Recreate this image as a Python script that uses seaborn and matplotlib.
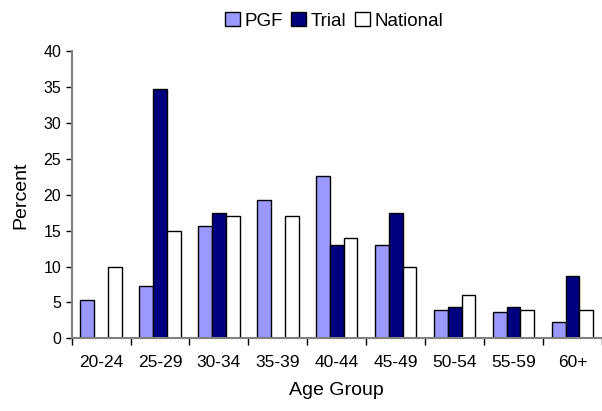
import numpy as np
import pandas as pd
import matplotlib
matplotlib.use("Agg")
import matplotlib.pyplot as plt
import seaborn as sns
from matplotlib.patches import Patch

# Age distribution data
age_groups = ["20-24", "25-29", "30-34", "35-39", "40-44", "45-49", "50-54", "55-59", "60+"]
pgf = [5.3, 7.3, 15.6, 19.3, 22.6, 13.0, 4.0, 3.6, 2.3]
trial = [0, 34.7, 17.4, 0, 13.0, 17.4, 4.3, 4.3, 8.7]
national = [10, 15, 17, 17, 14, 10, 6, 4, 4]

series = ["PGF", "Trial", "National"]
colors = {"PGF": "#9999FF", "Trial": "#000080", "National": "#FFFFFF"}

df = pd.DataFrame({"Age Group": age_groups, "PGF": pgf, "Trial": trial, "National": national})
long_df = df.melt(id_vars="Age Group", var_name="Series", value_name="Percent")

sns.set_style("white")
plt.rcParams["font.family"] = ["Liberation Sans", "DejaVu Sans"]
plt.rcParams["text.color"] = "black"
plt.rcParams["axes.labelcolor"] = "black"
plt.rcParams["xtick.color"] = "black"
plt.rcParams["ytick.color"] = "black"

fig = plt.figure(figsize=(6.02, 4.11), dpi=100)
ax = fig.add_axes([0.119, 0.177, 0.881, 0.698])

sns.barplot(data=long_df, x="Age Group", y="Percent", hue="Series", hue_order=series,
            palette=colors, width=0.7, edgecolor="black", linewidth=1.0,
            saturation=1, legend=False, ax=ax)

ax.set_xlim(-0.5, len(age_groups) - 0.5)
ax.set_ylim(0, 40)
ax.set_yticks(range(0, 41, 5))
ax.tick_params(axis="y", labelsize=11.5, length=4, width=1, direction="out", left=True,
               color="black", labelcolor="black")
ax.tick_params(axis="x", which="major", labelsize=12.5, length=0, pad=12, labelcolor="black")
ax.set_xticks(np.arange(-0.5, len(age_groups)), minor=True)
ax.tick_params(axis="x", which="minor", length=5, width=1, direction="out", bottom=True, color="black")

for side in ["top", "right"]:
    ax.spines[side].set_visible(False)
for side in ["left", "bottom"]:
    ax.spines[side].set_color("#808080")
    ax.spines[side].set_linewidth(1.5)

ax.set_xlabel("Age Group", fontsize=14, labelpad=9, color="black")
ax.set_ylabel("Percent", fontsize=14, labelpad=10, color="black")

handles = [Patch(facecolor=colors[s], edgecolor="black", linewidth=1.0, label=s) for s in series]
fig.legend(handles=handles, loc="upper center", bbox_to_anchor=(0.555, 1.012), ncol=3,
           frameon=False, fontsize=13.5, handlelength=0.8, handleheight=0.8,
           handletextpad=0.25, columnspacing=0.45, labelcolor="black")

fig.savefig("out.png", dpi=100)
